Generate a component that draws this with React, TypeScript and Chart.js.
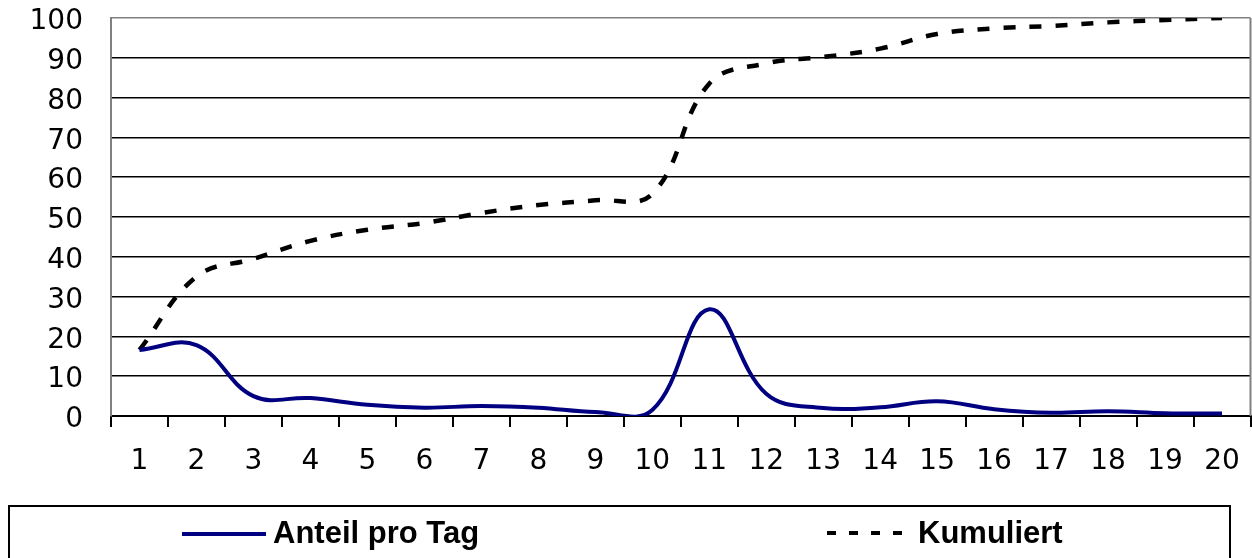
import React, { useEffect, useRef } from "react";
import { Chart, registerables } from "chart.js";

Chart.register(...registerables);

const categories = ["1", "2", "3", "4", "5", "6", "7", "8", "9", "10", "11", "12", "13", "14", "15", "16", "17", "18", "19", "20"];
const anteilProTag = [16.6, 17.8, 5.0, 4.5, 2.8, 2.1, 2.5, 2.1, 1.0, 1.5, 26.8, 5.6, 2.0, 2.2, 3.7, 1.7, 0.8, 1.2, 0.7, 0.6];
const kumuliert = [16.6, 35.0, 39.5, 44.0, 46.8, 48.5, 51.0, 53.0, 54.2, 55.8, 83.5, 88.6, 90.2, 92.3, 96.0, 97.4, 98.0, 98.9, 99.5, 100.0];
const seriesLabels = ["Anteil pro Tag", "Kumuliert"];
const yMin = 0;
const yMax = 100;
const yStep = 10;

const NAVY = "#000080";

const legendAndBorder = {
  id: "legendAndBorder",
  afterDraw(chart: any) {
    const { ctx, chartArea } = chart;
    ctx.save();
    // right border of plot area
    ctx.strokeStyle = "#808080";
    ctx.lineWidth = 2;
    ctx.beginPath();
    ctx.moveTo(chartArea.right, chartArea.top);
    ctx.lineTo(chartArea.right, chartArea.bottom);
    ctx.stroke();

    // legend box
    ctx.strokeStyle = "#000";
    ctx.lineWidth = 2;
    ctx.beginPath();
    ctx.moveTo(9, 570);
    ctx.lineTo(9, 506);
    ctx.lineTo(1230, 506);
    ctx.lineTo(1230, 570);
    ctx.stroke();

    const ds = chart.data.datasets;
    // solid sample
    ctx.strokeStyle = ds[0].borderColor;
    ctx.lineWidth = 4;
    ctx.setLineDash([]);
    ctx.beginPath();
    ctx.moveTo(182, 534);
    ctx.lineTo(266, 534);
    ctx.stroke();

    // dashed sample
    ctx.strokeStyle = ds[1].borderColor;
    ctx.lineWidth = 4;
    ctx.setLineDash([9, 13]);
    ctx.beginPath();
    ctx.moveTo(827, 533);
    ctx.lineTo(910, 533);
    ctx.stroke();
    ctx.setLineDash([]);

    ctx.fillStyle = "#000";
    ctx.font = "bold 31px 'Liberation Sans', Arial, sans-serif";
    ctx.textBaseline = "alphabetic";
    ctx.textAlign = "left";
    ctx.fillText(ds[0].label, 273, 543);
    ctx.fillText(ds[1].label, 918, 543);
    ctx.restore();
  },
};

export default function App() {
  const ref = useRef<HTMLCanvasElement | null>(null);

  useEffect(() => {
    if (!ref.current) return;
    const chart = new Chart(ref.current, {
      type: "line",
      data: {
        labels: categories,
        datasets: [
          {
            label: seriesLabels[0],
            data: anteilProTag,
            borderColor: NAVY,
            borderWidth: 4,
            pointRadius: 0,
            tension: 0.4,
            fill: false,
          },
          {
            label: seriesLabels[1],
            data: kumuliert,
            borderColor: "#000000",
            borderWidth: 4.5,
            borderDash: [12, 14],
            pointRadius: 0,
            tension: 0.4,
            fill: false,
          },
        ],
      },
      options: {
        animation: false,
        responsive: false,
        devicePixelRatio: 1,
        layout: { padding: { left: 0, right: 1.5, top: 18, bottom: 0 } },
        elements: { line: { capBezierPoints: false } },
        plugins: {
          legend: { display: false },
          tooltip: { enabled: false },
        },
        scales: {
          x: {
            type: "category",
            offset: true,
            grid: {
              display: true,
              drawOnChartArea: false,
              drawTicks: true,
              tickLength: 11,
              color: "#000",
              lineWidth: 2,
              offset: true,
            },
            border: { display: true, color: "#000", width: 2 },
            ticks: {
              color: "#000",
              font: { family: "'DejaVu Sans', sans-serif", size: 28 },
              padding: 18,
              maxRotation: 0,
              autoSkip: false,
            },
            afterFit: (scale: any) => {
              scale.height = 142;
              scale.paddingLeft = 0;
              scale.paddingRight = 0;
            },
          },
          y: {
            min: yMin,
            max: yMax,
            grid: {
              drawTicks: false,
              color: (c: any) => (c.tick && c.tick.value === yMax ? "#808080" : "#000"),
              lineWidth: 1.6,
            },
            border: { display: true, color: "#808080", width: 2 },
            ticks: {
              stepSize: yStep,
              color: "#000",
              font: { family: "'DejaVu Sans', sans-serif", size: 28 },
              padding: 28,
              labelOffset: 4,
            },
            afterFit: (scale: any) => {
              scale.width = 111;
              scale.paddingTop = 0;
              scale.paddingBottom = 0;
            },
          },
        },
      },
      plugins: [legendAndBorder],
    });
    return () => chart.destroy();
  }, []);

  return (
    <div style={{ position: "absolute", left: 0, top: 0, width: 1252, height: 558, background: "#fff" }}>
      <canvas ref={ref} width={1252} height={558} style={{ display: "block", width: 1252, height: 558 }} />
    </div>
  );
}
